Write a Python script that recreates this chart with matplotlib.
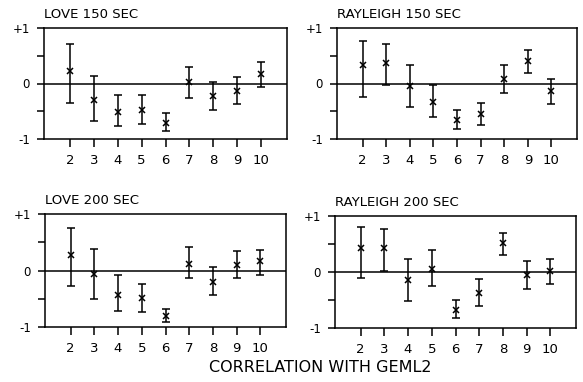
import matplotlib
matplotlib.use("Agg")
import matplotlib.pyplot as plt
import numpy as np

harmonics = [2, 3, 4, 5, 6, 7, 8, 9, 10]
titles = ["LOVE 150 SEC", "RAYLEIGH 150 SEC", "LOVE 200 SEC", "RAYLEIGH 200 SEC"]

love150_val = [0.23, -0.30, -0.51, -0.48, -0.71, 0.03, -0.22, -0.13, 0.18]
love150_hi = [0.71, 0.13, -0.20, -0.20, -0.53, 0.30, 0.03, 0.11, 0.39]
love150_lo = [-0.35, -0.68, -0.77, -0.73, -0.85, -0.26, -0.47, -0.37, -0.06]

ray150_val = [0.33, 0.37, -0.05, -0.33, -0.65, -0.55, 0.09, 0.41, -0.14]
ray150_hi = [0.77, 0.72, 0.33, -0.03, -0.47, -0.35, 0.34, 0.60, 0.08]
ray150_lo = [-0.24, -0.03, -0.42, -0.61, -0.82, -0.75, -0.18, 0.19, -0.37]

love200_val = [0.28, -0.06, -0.43, -0.49, -0.81, 0.12, -0.20, 0.10, 0.16]
love200_hi = [0.75, 0.38, -0.08, -0.24, -0.69, 0.41, 0.06, 0.34, 0.37]
love200_lo = [-0.28, -0.50, -0.71, -0.74, -0.91, -0.14, -0.44, -0.14, -0.08]

ray200_val = [0.42, 0.43, -0.15, 0.06, -0.68, -0.37, 0.52, -0.05, 0.01]
ray200_hi = [0.81, 0.76, 0.23, 0.40, -0.50, -0.13, 0.70, 0.19, 0.24]
ray200_lo = [-0.10, 0.02, -0.51, -0.25, -0.82, -0.60, 0.31, -0.30, -0.22]

series = [
    (love150_val, love150_lo, love150_hi),
    (ray150_val, ray150_lo, ray150_hi),
    (love200_val, love200_lo, love200_hi),
    (ray200_val, ray200_lo, ray200_hi),
]

W, H = 583, 382
fig = plt.figure(figsize=(W / 100, H / 100), dpi=100)

# axes boxes in pixels: left, top, right, bottom
boxes = [(44, 28, 287, 139), (337, 28, 577, 139), (45, 214, 286, 327), (335, 216, 576, 328)]

for (l, t, r, b), title, (val, lo, hi) in zip(boxes, titles, series):
    ax = fig.add_axes([l / W, 1 - b / H, (r - l) / W, (b - t) / H])
    val = np.array(val); lo = np.array(lo); hi = np.array(hi)
    ax.axhline(0, color="black", lw=1.1)
    ax.errorbar(harmonics, val, yerr=[val - lo, hi - val], fmt="x", color="black",
                ms=4.5, mew=1.1, elinewidth=1.1, capsize=3, capthick=1.1)
    ax.set_xlim(0.92, 11.08)
    ax.set_ylim(-1, 1)
    ax.set_xticks(harmonics)
    ax.set_xticklabels([str(h) for h in harmonics], fontsize=9.5)
    ax.set_yticks([-1, -0.5, 0, 0.5, 1])
    ax.set_yticklabels(["-1", "", "0", "", "+1"], fontsize=8.5)
    ax.tick_params(axis="x", direction="out", length=6, width=1.1, pad=5)
    ax.tick_params(axis="y", direction="out", length=5, width=1.1, pad=5)
    for s in ax.spines.values():
        s.set_linewidth(1.1)
    ax.text(0.0, 1.06, title, transform=ax.transAxes, fontsize=9.5, ha="left", va="bottom")

fig.text(320 / W, 1 - 368 / H, "CORRELATION WITH GEML2", fontsize=11.5, ha="center", va="center")

fig.savefig("out.png", dpi=100)
